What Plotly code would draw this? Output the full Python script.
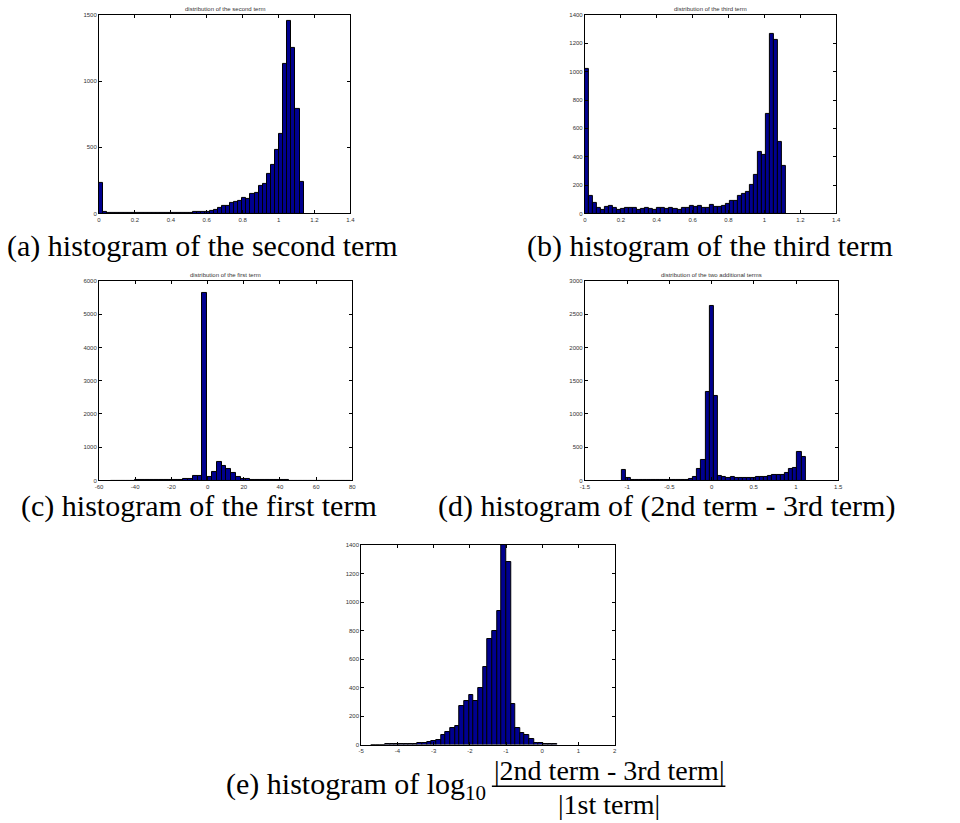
import plotly.graph_objects as go

# ---------------- data (histogram counts) ----------------
# (a) second term: 50 bins starting at 0, width 0.0228
A_START, A_WIDTH = 0.0, 0.0228
A_COUNTS = [233, 15, 3, 4, 5, 4, 3, 3, 2, 3, 4, 2, 3, 4, 3, 5, 6, 4, 5, 5,
            4, 3, 4, 8, 10, 12, 15, 20, 30, 42, 55, 60, 78, 88, 92, 118, 110, 147, 158, 208,
            222, 298, 368, 478, 603, 1132, 1455, 1252, 788, 237]

# (b) third term: 50 bins starting at 0, width 0.0224
B_START, B_WIDTH = 0.0, 0.0224
B_COUNTS = [1017, 124, 77, 40, 25, 45, 55, 38, 28, 35, 36, 38, 38, 28, 35, 40, 32, 28, 37, 38,
            33, 37, 33, 25, 40, 42, 50, 44, 50, 38, 38, 60, 45, 49, 50, 65, 86, 90, 122, 136,
            150, 198, 270, 435, 416, 705, 1268, 1225, 505, 337]

# (c) first term: 50 bins starting at -53.2, width 2.65
C_START, C_WIDTH = -53.2, 2.65
C_COUNTS = [0, 0, 1, 1, 1, 5, 10, 15, 18, 20, 22, 25, 25, 28, 30, 35, 40, 150, 145, 5640,
            110, 255, 565, 425, 345, 215, 120, 55, 35, 25, 18, 12, 8, 5, 3, 2, 2, 1, 1, 1,
            0, 0, 0, 0, 0, 0, 0, 0, 0, 0]

# (d) 2nd term - 3rd term: 44 bins starting at -1.06, width 0.0494
D_START, D_WIDTH = -1.06, 0.0494
D_COUNTS = [162, 42, 15, 12, 12, 10, 12, 10, 8, 8, 10, 8, 10, 10, 12, 12, 20, 58, 172, 308,
            1338, 2628, 1265, 65, 50, 35, 50, 35, 45, 40, 40, 40, 60, 60, 55, 65, 80, 85, 88, 115,
            178, 192, 422, 360]

# (e) log10 ratio: 40 bins starting at -4.724, width 0.1285
E_START, E_WIDTH = -4.724, 0.1285
E_COUNTS = [0, 0, 0, 2, 2, 3, 4, 6, 7, 7, 9, 14, 21, 23, 32, 67, 88, 114, 130, 269,
            308, 345, 308, 394, 542, 744, 799, 936, 1400, 1279, 287, 113, 81, 65, 39, 12, 8, 2, 1, 1]

TITLES = ["distribution of the second term", "distribution of the third term",
          "distribution of the first term", "distribution of the two additional terms", ""]

A_XTICKS = [0, 0.2, 0.4, 0.6, 0.8, 1, 1.2, 1.4]
A_XLABELS = ["0", "0.2", "0.4", "0.6", "0.8", "1", "1.2", "1.4"]
A_YTICKS = [0, 500, 1000, 1500]
B_YTICKS = [0, 200, 400, 600, 800, 1000, 1200, 1400]
C_XTICKS = [-60, -40, -20, 0, 20, 40, 60, 80]
C_XLABELS = ["-60", "-40", "-20", "0", "20", "40", "60", "80"]
C_YTICKS = [0, 1000, 2000, 3000, 4000, 5000, 6000]
D_XTICKS = [-1.5, -1, -0.5, 0, 0.5, 1, 1.5]
D_XLABELS = ["-1.5", "-1", "-0.5", "0", "0.5", "1", "1.5"]
D_YTICKS = [0, 500, 1000, 1500, 2000, 2500, 3000]
E_XTICKS = [-5, -4, -3, -2, -1, 0, 1, 2]
E_XLABELS = ["-5", "-4", "-3", "-2", "-1", "0", "1", "2"]
E_YTICKS = [0, 200, 400, 600, 800, 1000, 1200, 1400]

CAPTIONS = ["(a) histogram of the second term", "(b) histogram of the third term",
            "(c) histogram of the first term", "(d) histogram of (2nd term - 3rd term)"]
E_CAPTION_LEFT = "(e) histogram of log<sub>10</sub>"
E_NUM = "|2nd term - 3rd term|"
E_DEN = "|1st term|"

# ---------------- layout geometry (pixels) ----------------
W, H = 960, 823
BOXES = [  # left, right, top, bottom
    (95, 349, 12, 212),
    (586, 840, 12, 212),
    (95, 351, 280, 481),
    (586, 842, 280, 481),
    (360, 616, 546, 747),
]
XRANGES = [[0, 1.4], [0, 1.4], [-60, 80], [-1.5, 1.5], [-5, 2]]
YRANGES = [[0, 1500], [0, 1400], [0, 6000], [0, 3000], [0, 1400]]
XT = [(A_XTICKS, A_XLABELS), (A_XTICKS, A_XLABELS), (C_XTICKS, C_XLABELS),
      (D_XTICKS, D_XLABELS), (E_XTICKS, E_XLABELS)]
YT = [A_YTICKS, B_YTICKS, C_YTICKS, D_YTICKS, E_YTICKS]
HIST = [(A_START, A_WIDTH, A_COUNTS), (B_START, B_WIDTH, B_COUNTS), (C_START, C_WIDTH, C_COUNTS),
        (D_START, D_WIDTH, D_COUNTS), (E_START, E_WIDTH, E_COUNTS)]

BAR_COLOR = "#00008f"
TICKFONT = dict(family="Liberation Sans, Arial", size=6, color="#333333")
CAPFONT = dict(family="Liberation Serif, Times New Roman, serif", size=30, color="black")
FRACFONT = dict(family="Liberation Serif, Times New Roman, serif", size=28, color="black")


def px(x):
    return x / W


def py(y):
    return 1 - y / H


fig = go.Figure()
layout = dict(width=W, height=H, margin=dict(l=0, r=0, t=0, b=0), autosize=False,
              paper_bgcolor="white", plot_bgcolor="white", showlegend=False,
              bargap=0, annotations=[], shapes=[])

for i, ((start, width, counts), box) in enumerate(zip(HIST, BOXES)):
    n = i + 1
    centers = [start + width * (k + 0.5) for k in range(len(counts))]
    xa = "x" if n == 1 else f"x{n}"
    ya = "y" if n == 1 else f"y{n}"
    fig.add_trace(go.Bar(x=centers, y=counts, width=width, xaxis=xa, yaxis=ya,
                         marker=dict(color=BAR_COLOR, line=dict(color="black", width=1)),
                         hoverinfo="x+y"))
    l, r, t, b = box
    common = dict(showline=True, linecolor="black", linewidth=1, mirror="ticks",
                  ticks="inside", ticklen=3, tickwidth=1, tickcolor="black",
                  showgrid=False, zeroline=False, tickfont=TICKFONT, fixedrange=True)
    xv, xl = XT[i]
    layout[f"xaxis{'' if n == 1 else n}"] = dict(
        domain=[px(l), px(r)], range=XRANGES[i], anchor=ya,
        tickmode="array", tickvals=xv, ticktext=xl, **common)
    layout[f"yaxis{'' if n == 1 else n}"] = dict(
        domain=[py(b), py(t)], range=YRANGES[i], anchor=xa,
        tickmode="array", tickvals=YT[i], ticktext=[str(v) for v in YT[i]], **common)
    if TITLES[i]:
        layout["annotations"].append(dict(
            text=TITLES[i], x=px((l + r) / 2), y=py(t - 1), xref="paper", yref="paper",
            xanchor="center", yanchor="bottom", showarrow=False,
            font=dict(family="Liberation Sans, Arial", size=6, color="#333333")))

CAP_POS = [(200, 245), (712, 245), (196, 507), (668, 507)]
for text, (cx, cy) in zip(CAPTIONS, CAP_POS):
    layout["annotations"].append(dict(
        text=text, x=px(cx), y=py(cy), xref="paper", yref="paper",
        xanchor="center", yanchor="middle", showarrow=False, font=CAPFONT))

# (e) caption with fraction
layout["annotations"].append(dict(
    text=E_CAPTION_LEFT, x=px(488), y=py(789), xref="paper", yref="paper",
    xanchor="right", yanchor="middle", showarrow=False, font=CAPFONT))
layout["annotations"].append(dict(
    text=E_NUM, x=px(610), y=py(773), xref="paper", yref="paper",
    xanchor="center", yanchor="middle", showarrow=False, font=FRACFONT))
layout["annotations"].append(dict(
    text=E_DEN, x=px(610), y=py(807), xref="paper", yref="paper",
    xanchor="center", yanchor="middle", showarrow=False, font=FRACFONT))
layout["shapes"].append(dict(type="line", xref="paper", yref="paper",
                             x0=px(492), x1=px(728), y0=py(789), y1=py(789),
                             line=dict(color="black", width=1.5)))

fig.update_layout(**layout)
fig.write_html("out.html")
